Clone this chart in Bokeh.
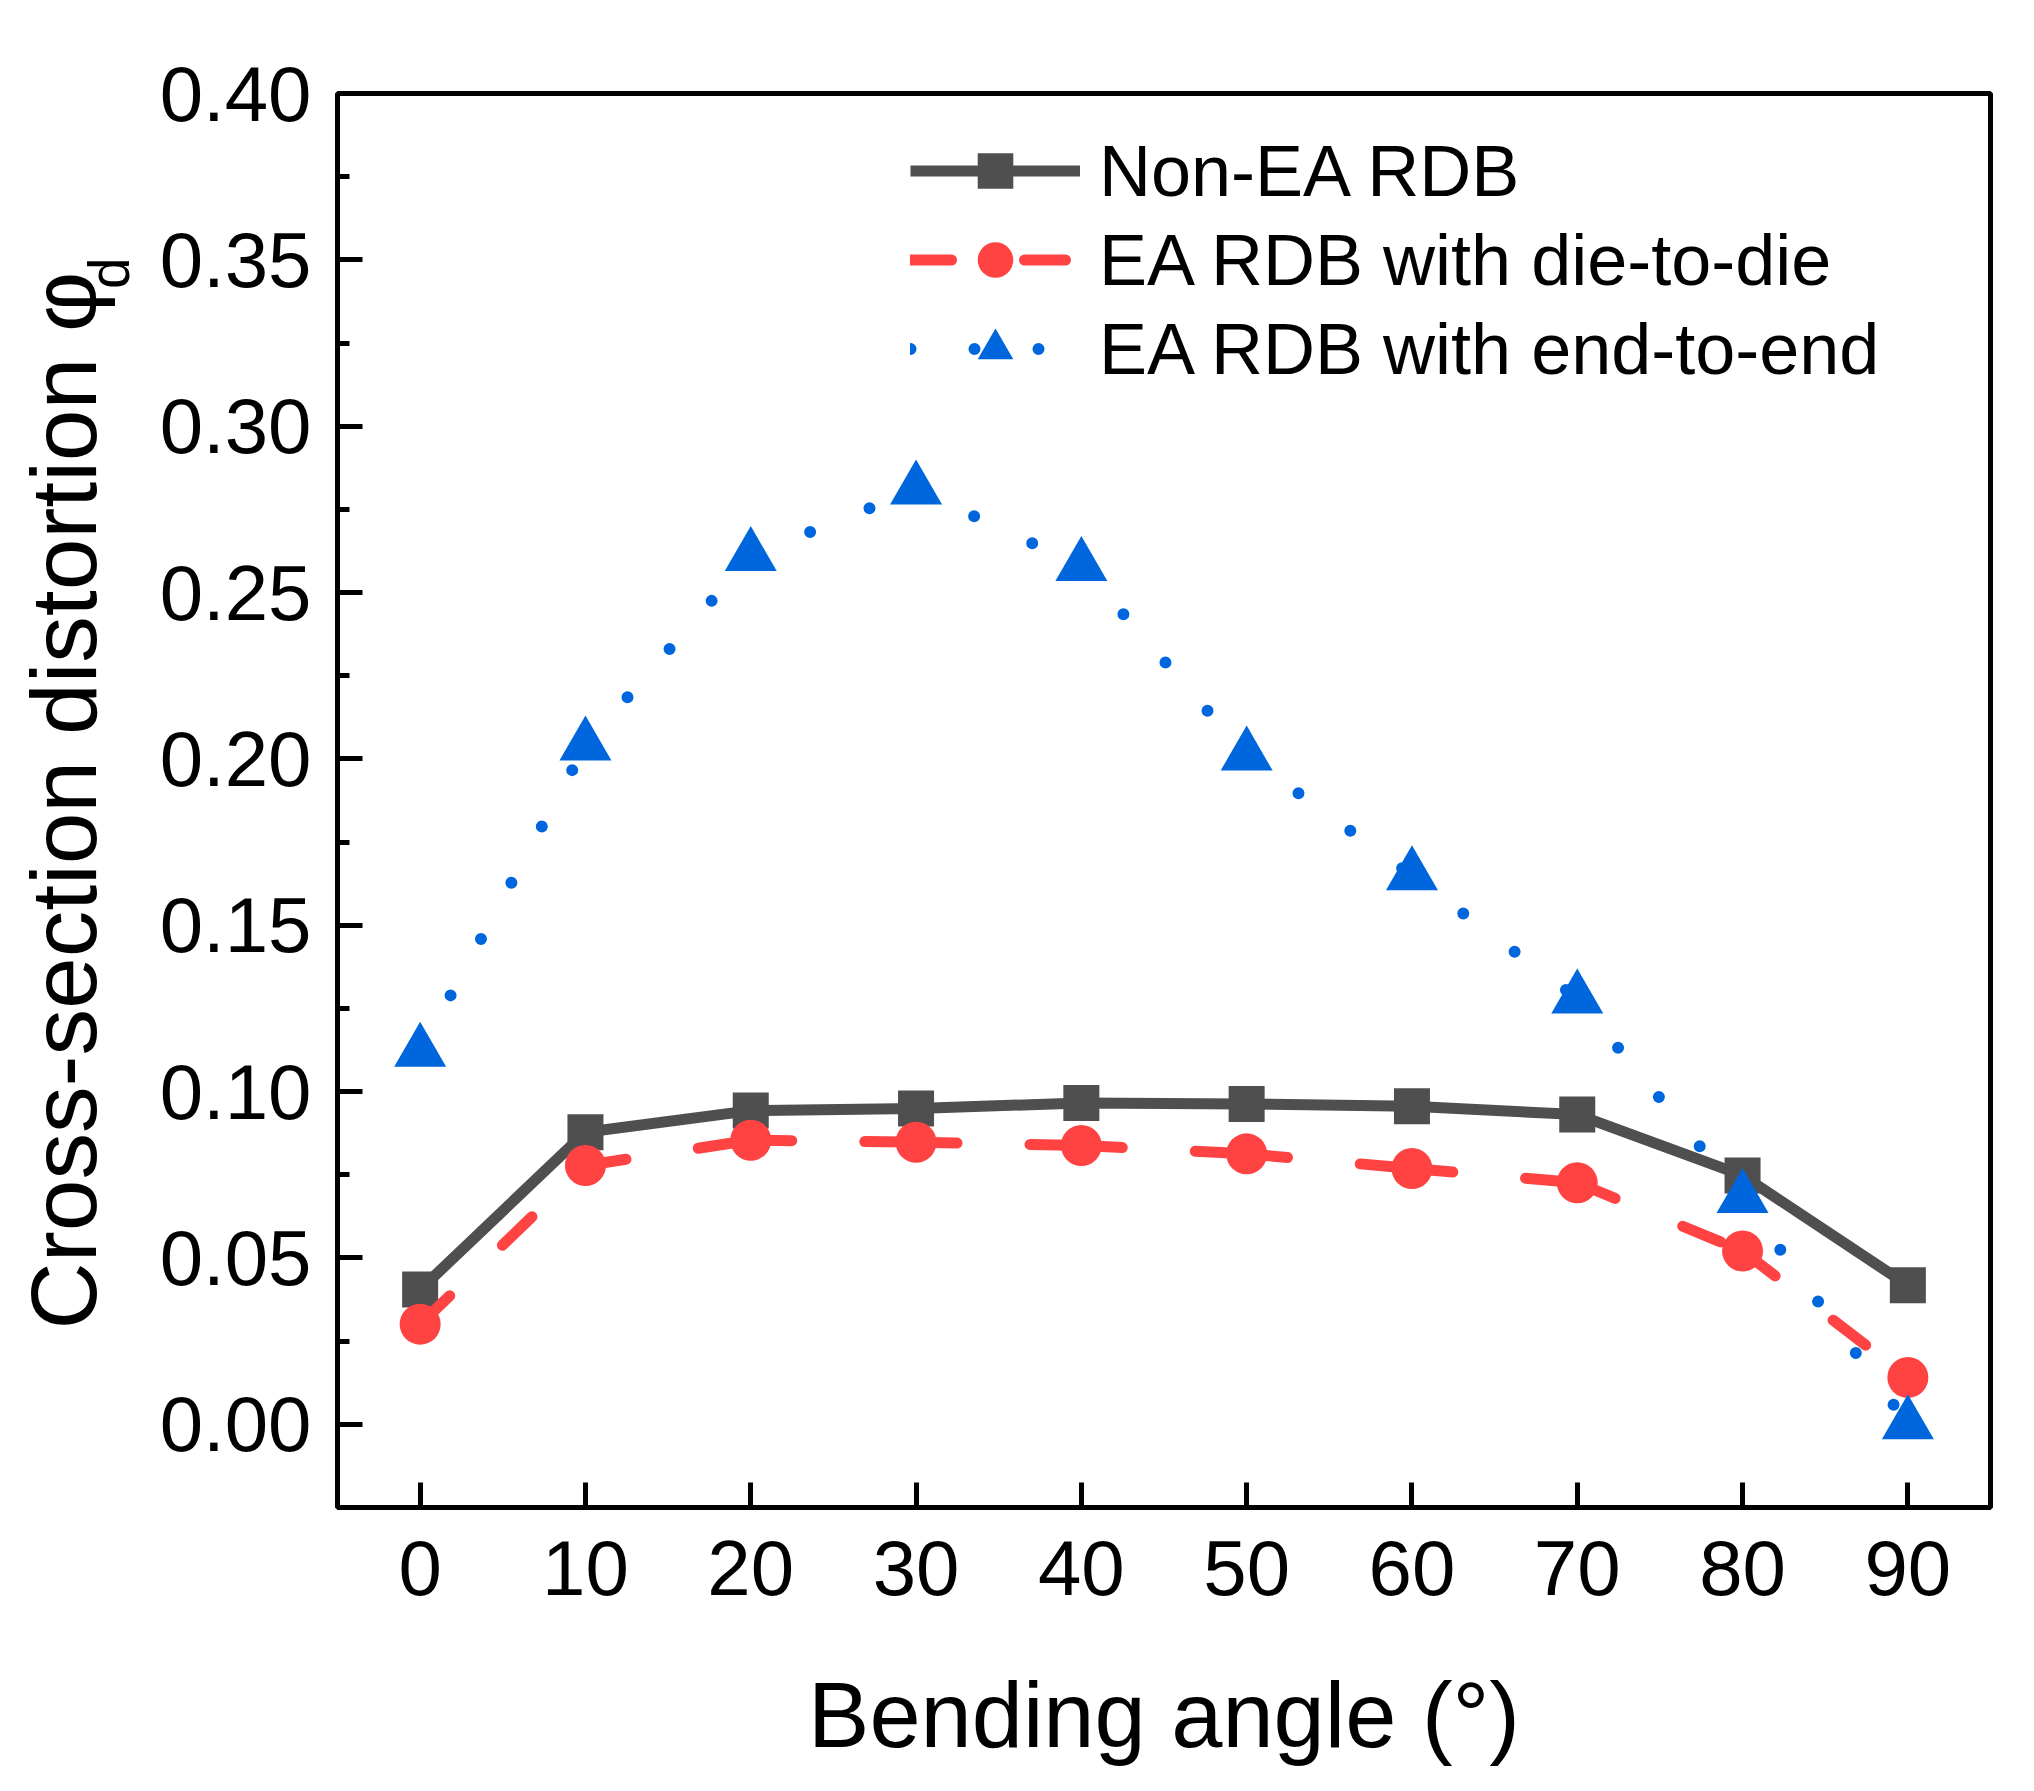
from bokeh.plotting import figure
from bokeh.models import Range1d, FixedTicker, NumeralTickFormatter, Legend, LegendItem, LinearAxis
from bokeh.embed import file_html
from bokeh.resources import INLINE

# ---- data ----
angles = [0, 10, 20, 30, 40, 50, 60, 70, 80, 90]
non_ea = [0.0405, 0.0878, 0.0943, 0.0949, 0.0966, 0.0963, 0.0956, 0.0931, 0.0748, 0.0418]
die_to_die = [0.0301, 0.0778, 0.0854, 0.0848, 0.0838, 0.0813, 0.0769, 0.0726, 0.0521, 0.0141]
end_to_end = [0.112, 0.204, 0.261, 0.281, 0.258, 0.201, 0.165, 0.128, 0.068, 0.000]

x_ticks = [0, 10, 20, 30, 40, 50, 60, 70, 80, 90]
y_ticks = [0.00, 0.05, 0.10, 0.15, 0.20, 0.25, 0.30, 0.35, 0.40]
y_minor = [0.025, 0.075, 0.125, 0.175, 0.225, 0.275, 0.325, 0.375]

series_labels = ["Non-EA RDB", "EA RDB with die-to-die", "EA RDB with end-to-end"]
x_title = "Bending angle (°)"
y_title = "Cross-section distortion φ"
y_title_sub = "d"
y_sub_at = 0.346   # vertical place of the subscript, in data units

FONT = "Liberation Sans"
C_BLACK = "#4F4F4F"
C_RED = "#FF4343"
C_BLUE = "#0066DD"

p = figure(width=2014, height=1791, output_backend="svg", toolbar_location=None,
           x_range=Range1d(-5, 95), y_range=Range1d(-0.025, 0.40),
           min_border_left=337, min_border_right=24, min_border_top=93, min_border_bottom=284)
p.grid.visible = False
p.background_fill_color = "white"
p.border_fill_color = "white"
p.outline_line_color = "black"
p.outline_line_width = 5

# axes
p.xaxis.ticker = FixedTicker(ticks=x_ticks, minor_ticks=[])
p.yaxis.ticker = FixedTicker(ticks=y_ticks, minor_ticks=y_minor)
p.yaxis.formatter = NumeralTickFormatter(format="0.00")
for ax in (p.xaxis, p.yaxis):
    ax.axis_line_width = 5
    ax.axis_line_color = "black"
    ax.major_tick_line_width = 5
    ax.minor_tick_line_width = 5
    ax.major_tick_in = 25
    ax.major_tick_out = 0
    ax.minor_tick_in = 12
    ax.minor_tick_out = 0
    ax.major_label_text_font = FONT
    ax.major_label_text_font_size = "78px"
    ax.major_label_text_color = "black"
    ax.axis_label_text_font = FONT
    ax.axis_label_text_font_style = "normal"
    ax.axis_label_text_color = "black"
p.xaxis.axis_label_text_font_size = "92px"
p.xaxis.major_label_standoff = 33
p.yaxis.major_label_standoff = 26
p.xaxis.axis_label = x_title
p.xaxis.axis_label_standoff = 66
p.yaxis.axis_label = None

# outer left axis: carries the y title and its subscript "d"
ax2 = LinearAxis(ticker=FixedTicker(ticks=[y_sub_at], minor_ticks=[]),
                 major_label_overrides={y_sub_at: y_title_sub},
                 axis_line_color=None, major_tick_line_color=None, minor_tick_line_color=None,
                 major_tick_in=0, major_tick_out=0, minor_tick_in=0, minor_tick_out=0,
                 major_label_orientation="vertical", major_label_standoff=15,
                 major_label_text_font=FONT, major_label_text_font_size="57px",
                 major_label_text_color="black",
                 axis_label=y_title, axis_label_standoff=-41,
                 axis_label_text_font=FONT, axis_label_text_font_size="93px",
                 axis_label_text_font_style="normal", axis_label_text_color="black")
p.add_layout(ax2, "left")

# series
r_black_line = p.line(angles, non_ea, line_color=C_BLACK, line_width=11, line_join="round")
r_black_pts = p.scatter(angles, non_ea, marker="square", size=36, fill_color=C_BLACK, line_color=None)

r_red_line = p.segment(x0=angles[:-1], y0=die_to_die[:-1], x1=angles[1:], y1=die_to_die[1:],
                       line_color=C_RED, line_width=11, line_dash="41 73", line_cap="round")
r_red_pts = p.scatter(angles, die_to_die, marker="circle", size=41, fill_color=C_RED, line_color=None)

r_blue_line = p.segment(x0=angles[:-1], y0=end_to_end[:-1], x1=angles[1:], y1=end_to_end[1:],
                        line_color=C_BLUE, line_width=12, line_dash="0 64", line_cap="round")
r_blue_pts = p.scatter(angles, end_to_end, marker="triangle", size=52, fill_color=C_BLUE, line_color=None)

legend = Legend(items=[
    LegendItem(label=series_labels[0], renderers=[r_black_line, r_black_pts]),
    LegendItem(label=series_labels[1], renderers=[r_red_line, r_red_pts]),
    LegendItem(label=series_labels[2], renderers=[r_blue_line, r_blue_pts]),
], location=(573, 1114))
legend.label_text_font = FONT
legend.label_text_font_size = "72px"
legend.label_text_color = "black"
legend.glyph_width = 170
legend.glyph_height = 89
legend.label_height = 89
legend.label_standoff = 19
legend.spacing = 0
legend.padding = 0
legend.margin = 0
legend.border_line_color = None
legend.background_fill_alpha = 0
p.add_layout(legend, "center")

open("out.html", "w").write(file_html(p, INLINE))
